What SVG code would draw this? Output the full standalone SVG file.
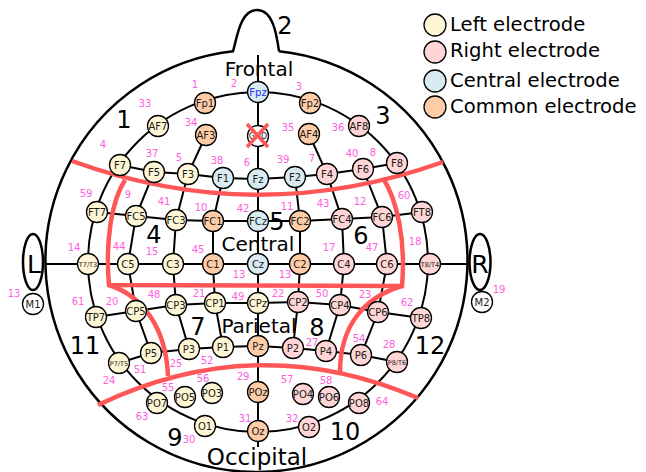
<svg xmlns="http://www.w3.org/2000/svg" width="646" height="472" viewBox="0 0 646 472">
<style>
text{font-family:"DejaVu Sans","Liberation Sans",sans-serif}
.e circle{stroke:#000;stroke-width:1.3}
.L{fill:#fff6d5}.R{fill:#ffd5d5}.C{fill:#d7ebf1}.M{fill:#ffcca8}.W{fill:#fff}
.e text{font-size:10px;text-anchor:middle;fill:#1a1a1a}
.e text.s{font-size:6.5px}
.pk{font-size:10px;fill:#ff5ee0;text-anchor:middle}
.big{font-size:24px;text-anchor:middle;fill:#000}
.reg{font-size:20px;text-anchor:middle;fill:#000}
.ln{fill:none;stroke:#000;stroke-width:2}
.red{fill:none;stroke:#ff5757;stroke-width:4.5;stroke-linecap:butt}
.leg{font-size:19.6px;fill:#000}
</style>
<rect width="646" height="472" fill="#fff"/>
<g id="head">
<path d="M279,51.2 A211,211 0 1 1 233,51.3 C237,38 240,10 257,10 C274,10 277,38 279,51.2" fill="none" stroke="#000" stroke-width="2.5"/>
<ellipse cx="33" cy="262" rx="10" ry="28" fill="#fff" stroke="#000" stroke-width="2.5"/>
<text x="34" y="273" font-size="25" text-anchor="middle">L</text>
<ellipse cx="480" cy="262" rx="10.5" ry="28" fill="#fff" stroke="#000" stroke-width="2.5"/>
<text x="480" y="273" font-size="25" text-anchor="middle">R</text>
</g>
<g id="connectors">
<circle class="ln" cx="258" cy="262" r="170"/>
<line class="ln" x1="258" y1="55" x2="258" y2="447"/>
<line class="ln" x1="45" y1="264" x2="468" y2="264"/>
<polyline class="ln" points="120,165 154,172 188,174 223,178 258,179 295,177 327,174 363,169 397,163"/>
<polyline class="ln" points="97,212 136,216 176,220 213,221 258,221 300,221 342,219 382,217 422,212"/>
<polyline class="ln" points="96,317 136,311 176,305 215,303 258,303 298,302 340,305 378,312 421,318"/>
<polyline class="ln" points="119,363 151,353 189,349 223,347 258,346 293,348 326,351 361,355 397,362"/>
<polyline class="ln" points="154,172 136,216 128,264 136,311 151,353"/>
<polyline class="ln" points="206,135 188,174 176,220 173,264 176,305 189,349"/>
<polyline class="ln" points="223,178 213,221 213,264 215,303 223,347"/>
<polyline class="ln" points="295,177 300,221 300,264 298,302 293,348"/>
<polyline class="ln" points="309,134 327,174 342,219 344,264 340,305 326,351"/>
<polyline class="ln" points="363,169 382,217 387,264 378,312 361,355"/>
</g>
<g id="regions">
<path class="red" d="M72,161 Q257,228 443,162"/>
<path class="red" d="M98,405 Q257,329 418,398"/>
<path class="red" d="M125,180 C112,200 105,240 109,285 L402,286 C406,240 397,200 383,178"/>
<path class="red" d="M109,285 C140,295 166,325 168,376"/>
<path class="red" d="M402,286 C365,297 340,325 340,372"/>
</g>
<g id="electrodes">
<g id="Fpz" class="e"><circle class="C" cx="258" cy="92" r="10.5"/><text x="258" y="95.5" style="fill:#2a2aff">Fpz</text></g>
<g id="Fp1" class="e"><circle class="M" cx="205" cy="103" r="10.5"/><text x="205" y="106.5">Fp1</text></g>
<g id="Fp2" class="e"><circle class="M" cx="310" cy="103" r="10.5"/><text x="310" y="106.5">Fp2</text></g>
<g id="AF7" class="e"><circle class="L" cx="158" cy="126" r="10.5"/><text x="158" y="129.5">AF7</text></g>
<g id="AF3" class="e"><circle class="M" cx="206" cy="135" r="10.5"/><text x="206" y="138.5">AF3</text></g>
<g id="GND" class="e"><circle class="W" cx="258" cy="136" r="10.5"/><text x="258" y="139" style="font-size:8px">GND</text></g>
<g id="AF4" class="e"><circle class="M" cx="309" cy="134" r="10.5"/><text x="309" y="137.5">AF4</text></g>
<g id="AF8" class="e"><circle class="R" cx="359" cy="126" r="10.5"/><text x="359" y="129.5">AF8</text></g>
<g id="F7" class="e"><circle class="L" cx="120" cy="165" r="10.5"/><text x="120" y="168.5">F7</text></g>
<g id="F5" class="e"><circle class="L" cx="154" cy="172" r="10.5"/><text x="154" y="175.5">F5</text></g>
<g id="F3" class="e"><circle class="L" cx="188" cy="174" r="10.5"/><text x="188" y="177.5">F3</text></g>
<g id="F1" class="e"><circle class="C" cx="223" cy="178" r="10.5"/><text x="223" y="181.5">F1</text></g>
<g id="Fz" class="e"><circle class="C" cx="258" cy="179" r="10.5"/><text x="258" y="182.5">Fz</text></g>
<g id="F2" class="e"><circle class="C" cx="295" cy="177" r="10.5"/><text x="295" y="180.5">F2</text></g>
<g id="F4" class="e"><circle class="R" cx="327" cy="174" r="10.5"/><text x="327" y="177.5">F4</text></g>
<g id="F6" class="e"><circle class="R" cx="363" cy="169" r="10.5"/><text x="363" y="172.5">F6</text></g>
<g id="F8" class="e"><circle class="R" cx="397" cy="163" r="10.5"/><text x="397" y="166.5">F8</text></g>
<g id="FT7" class="e"><circle class="L" cx="97" cy="212" r="10.5"/><text x="97" y="215.5">FT7</text></g>
<g id="FC5" class="e"><circle class="L" cx="136" cy="216" r="10.5"/><text x="136" y="219.5">FC5</text></g>
<g id="FC3" class="e"><circle class="L" cx="176" cy="220" r="10.5"/><text x="176" y="223.5">FC3</text></g>
<g id="FC1" class="e"><circle class="M" cx="213" cy="221" r="10.5"/><text x="213" y="224.5">FC1</text></g>
<g id="FCz" class="e"><circle class="C" cx="258" cy="221" r="10.5"/><text x="258" y="224.5">FCz</text></g>
<g id="FC2" class="e"><circle class="M" cx="300" cy="221" r="10.5"/><text x="300" y="224.5">FC2</text></g>
<g id="FC4" class="e"><circle class="R" cx="342" cy="219" r="10.5"/><text x="342" y="222.5">FC4</text></g>
<g id="FC6" class="e"><circle class="R" cx="382" cy="217" r="10.5"/><text x="382" y="220.5">FC6</text></g>
<g id="FT8" class="e"><circle class="R" cx="422" cy="212" r="10.5"/><text x="422" y="215.5">FT8</text></g>
<g id="T7" class="e"><circle class="L" cx="88" cy="264" r="10.5"/><text class="s" x="88" y="266.5">T7/T3</text></g>
<g id="C5" class="e"><circle class="L" cx="128" cy="264" r="10.5"/><text x="128" y="267.5">C5</text></g>
<g id="C3" class="e"><circle class="L" cx="173" cy="264" r="10.5"/><text x="173" y="267.5">C3</text></g>
<g id="C1" class="e"><circle class="M" cx="213" cy="264" r="10.5"/><text x="213" y="267.5">C1</text></g>
<g id="Cz" class="e"><circle class="C" cx="258" cy="264" r="10.5"/><text x="258" y="267.5">Cz</text></g>
<g id="C2" class="e"><circle class="M" cx="300" cy="264" r="10.5"/><text x="300" y="267.5">C2</text></g>
<g id="C4" class="e"><circle class="R" cx="344" cy="264" r="10.5"/><text x="344" y="267.5">C4</text></g>
<g id="C6" class="e"><circle class="R" cx="387" cy="264" r="10.5"/><text x="387" y="267.5">C6</text></g>
<g id="T8" class="e"><circle class="R" cx="430" cy="264" r="10.5"/><text class="s" x="430" y="266.5">T8/T4</text></g>
<g id="TP7" class="e"><circle class="L" cx="96" cy="317" r="10.5"/><text x="96" y="320.5">TP7</text></g>
<g id="CP5" class="e"><circle class="L" cx="136" cy="311" r="10.5"/><text x="136" y="314.5">CP5</text></g>
<g id="CP3" class="e"><circle class="L" cx="176" cy="305" r="10.5"/><text x="176" y="308.5">CP3</text></g>
<g id="CP1" class="e"><circle class="L" cx="215" cy="303" r="10.5"/><text x="215" y="306.5">CP1</text></g>
<g id="CPz" class="e"><circle class="L" cx="258" cy="303" r="10.5"/><text x="258" y="306.5">CPz</text></g>
<g id="CP2" class="e"><circle class="R" cx="298" cy="302" r="10.5"/><text x="298" y="305.5">CP2</text></g>
<g id="CP4" class="e"><circle class="R" cx="340" cy="305" r="10.5"/><text x="340" y="308.5">CP4</text></g>
<g id="CP6" class="e"><circle class="R" cx="378" cy="312" r="10.5"/><text x="378" y="315.5">CP6</text></g>
<g id="TP8" class="e"><circle class="R" cx="421" cy="318" r="10.5"/><text x="421" y="321.5">TP8</text></g>
<g id="P7" class="e"><circle class="L" cx="119" cy="363" r="10.5"/><text class="s" x="119" y="365.5">P7/T5</text></g>
<g id="P5" class="e"><circle class="L" cx="151" cy="353" r="10.5"/><text x="151" y="356.5">P5</text></g>
<g id="P3" class="e"><circle class="L" cx="189" cy="349" r="10.5"/><text x="189" y="352.5">P3</text></g>
<g id="P1" class="e"><circle class="L" cx="223" cy="347" r="10.5"/><text x="223" y="350.5">P1</text></g>
<g id="Pz" class="e"><circle class="M" cx="258" cy="346" r="10.5"/><text x="258" y="349.5">Pz</text></g>
<g id="P2" class="e"><circle class="R" cx="293" cy="348" r="10.5"/><text x="293" y="351.5">P2</text></g>
<g id="P4" class="e"><circle class="R" cx="326" cy="351" r="10.5"/><text x="326" y="354.5">P4</text></g>
<g id="P6" class="e"><circle class="R" cx="361" cy="355" r="10.5"/><text x="361" y="358.5">P6</text></g>
<g id="P8" class="e"><circle class="R" cx="397" cy="362" r="10.5"/><text class="s" x="397" y="364.5">P8/T6</text></g>
<g id="PO7" class="e"><circle class="L" cx="157" cy="403" r="10.5"/><text x="157" y="406.5">PO7</text></g>
<g id="PO5" class="e"><circle class="L" cx="185" cy="397" r="10.5"/><text x="185" y="400.5">PO5</text></g>
<g id="PO3" class="e"><circle class="L" cx="212" cy="393" r="10.5"/><text x="212" y="396.5">PO3</text></g>
<g id="POz" class="e"><circle class="M" cx="258" cy="392" r="10.5"/><text x="258" y="395.5">POz</text></g>
<g id="PO4" class="e"><circle class="R" cx="303" cy="394" r="10.5"/><text x="303" y="397.5">PO4</text></g>
<g id="PO6" class="e"><circle class="R" cx="329" cy="397" r="10.5"/><text x="329" y="400.5">PO6</text></g>
<g id="PO8" class="e"><circle class="R" cx="359" cy="403" r="10.5"/><text x="359" y="406.5">PO8</text></g>
<g id="O1" class="e"><circle class="L" cx="205" cy="426" r="10.5"/><text x="205" y="429.5">O1</text></g>
<g id="Oz" class="e"><circle class="M" cx="258" cy="431" r="10.5"/><text x="258" y="434.5">Oz</text></g>
<g id="O2" class="e"><circle class="R" cx="309" cy="427" r="10.5"/><text x="309" y="430.5">O2</text></g>
<g id="M1" class="e"><circle class="W" cx="33" cy="304" r="10.5"/><text x="33" y="307.5">M1</text></g>
<g id="M2" class="e"><circle class="W" cx="482" cy="302" r="10.5"/><text x="482" y="305.5">M2</text></g>
</g>
<g id="gnd-cross" stroke="#ff5757" stroke-width="3.5">
<line x1="247" y1="124" x2="268" y2="147"/><line x1="268" y1="124" x2="247" y2="147"/>
</g>
<g id="channel-numbers" class="pk">
<text x="195" y="88">1</text><text x="234" y="87">2</text><text x="299" y="90">3</text>
<text x="145" y="107">33</text><text x="191" y="126">34</text><text x="288" y="131">35</text><text x="338" y="131">36</text>
<text x="103" y="148">4</text><text x="152" y="157">37</text><text x="179" y="161">5</text><text x="217" y="164">38</text>
<text x="247" y="166">6</text><text x="283" y="163">39</text><text x="312" y="162">7</text><text x="352" y="157">40</text><text x="373" y="156">8</text>
<text x="86" y="197">59</text><text x="128" y="198">9</text><text x="164" y="205">41</text><text x="201" y="211">10</text>
<text x="243" y="212">42</text><text x="287" y="210">11</text><text x="323" y="207">43</text><text x="360" y="205">12</text><text x="404" y="199">60</text>
<text x="74" y="251">14</text><text x="119" y="250">44</text><text x="152" y="255">15</text><text x="198" y="253">45</text>
<text x="239" y="278">13</text><text x="285" y="278">13</text><text x="329" y="251">17</text><text x="372" y="251">47</text><text x="415" y="245">18</text>
<text x="14" y="297">13</text><text x="499" y="293">19</text>
<text x="78" y="305">61</text><text x="112" y="305">20</text><text x="154" y="298">48</text><text x="199" y="297">21</text>
<text x="238" y="300">49</text><text x="278" y="297">22</text><text x="322" y="297">50</text><text x="365" y="298">23</text><text x="407" y="306">62</text>
<text x="176" y="367">25</text><text x="207" y="364">52</text><text x="312" y="346">27</text><text x="359" y="342">54</text><text x="389" y="348">28</text>
<text x="140" y="373">51</text><text x="109" y="384">24</text><text x="168" y="391">55</text><text x="203" y="382">56</text>
<text x="243" y="380">29</text><text x="287" y="383">57</text><text x="326" y="384">58</text><text x="382" y="405">64</text>
<text x="142" y="420">63</text><text x="189" y="443">30</text><text x="245" y="422">31</text><text x="292" y="422">32</text>
</g>
<g id="region-numbers" class="big">
<text x="124" y="128">1</text><text x="285" y="34">2</text><text x="383" y="124">3</text>
<text x="154" y="243">4</text><text x="277" y="230">5</text><text x="361" y="244">6</text>
<text x="198" y="335">7</text><text x="317" y="336">8</text><text x="175" y="446">9</text>
<text x="345" y="440">10</text><text x="85" y="354">11</text><text x="430" y="354">12</text>
</g>
<g id="lobe-names" class="reg">
<text x="259" y="76">Frontal</text>
<text x="258" y="251">Central</text>
<text x="259" y="333">Parietal</text>
<text x="257" y="465" font-size="23">Occipital</text>
</g>
<g id="legend">
<circle cx="435" cy="25" r="11" fill="#fff6d5" stroke="#000" stroke-width="1.3"/>
<circle cx="435" cy="52" r="11" fill="#ffd5d5" stroke="#000" stroke-width="1.3"/>
<circle cx="435" cy="81" r="11" fill="#d7ebf1" stroke="#000" stroke-width="1.3"/>
<circle cx="435" cy="107" r="11" fill="#ffcca8" stroke="#000" stroke-width="1.3"/>
<text class="leg" x="450" y="31">Left electrode</text>
<text class="leg" x="450" y="57">Right electrode</text>
<text class="leg" x="450" y="87">Central electrode</text>
<text class="leg" x="450" y="113">Common electrode</text>
</g>
</svg>
